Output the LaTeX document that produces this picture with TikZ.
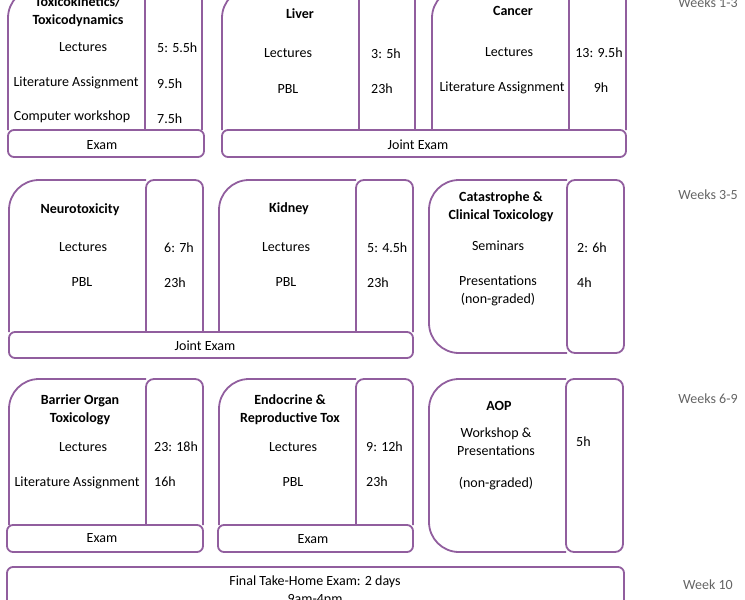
\documentclass[tikz,border=0pt]{standalone}
\usepackage{fontspec}
\setmainfont{Carlito}
\definecolor{modpurple}{RGB}{145,94,158}
\definecolor{weekgray}{RGB}{100,100,100}
\newcommand{\modfont}{\fontsize{14}{18}\selectfont}
\tikzstyle{frame} = [draw=modpurple, line width=1.8pt]
\tikzstyle{col} = [frame, rounded corners=8pt]
\tikzstyle{bar} = [frame, rounded corners=6pt]
\tikzstyle{txt} = [text height=.7em, text depth=.15em]
\tikzstyle{title} = [font=\modfont\bfseries, align=center]
\tikzstyle{hrs} = [txt, anchor=west]
\tikzstyle{week} = [txt, text=weekgray]

\begin{document}
\begin{tikzpicture}[x=1pt, y=-1pt, every node/.style={inner sep=0pt, font=\modfont, yshift=-2.5pt}]
	\useasboundingbox (0,0) rectangle (745,600);
	\clip (0,0) rectangle (745,600);

	% weeks 1-3
	\draw[frame] (145,-12) -- (38,-12) arc[start angle=90, end angle=180, radius=30pt] -- (8,130);
	\draw[col] (145,130) -- (145,-12) -- (202,-12) -- (202,130);
	\draw[bar] (8,130) rectangle (204,157);
	\draw[frame] (359,-12) -- (252,-12) arc[start angle=90, end angle=180, radius=30pt] -- (222,130);
	\draw[col] (359,130) -- (359,-12) -- (415,-12) -- (415,130);
	\draw[frame] (569,-12) -- (462,-12) arc[start angle=90, end angle=180, radius=30pt] -- (432,130);
	\draw[col] (569,130) -- (569,-12) -- (626,-12) -- (626,130);
	\draw[bar] (222,130) rectangle (626,157);

	\node[title] (tk) at (78,9) {Toxicokinetics/\\Toxicodynamics};
	\node[txt] (tk-lec) at (83,46) {Lectures};
	\node[hrs] (tk-lec-h) at (157,47) {5: 5.5h};
	\node[txt] (tk-lit) at (76,81) {Literature Assignment};
	\node[hrs] (tk-lit-h) at (157,83) {9.5h};
	\node[txt] (tk-cw) at (72,115) {Computer workshop};
	\node[hrs] (tk-cw-h) at (157,118) {7.5h};
	\node[txt] (tk-ex) at (102,144) {Exam};

	\node[title] (liv) at (300,11) {Liver};
	\node[txt] (liv-lec) at (288,52) {Lectures};
	\node[hrs] (liv-lec-h) at (371,53) {3: 5h};
	\node[txt] (liv-pbl) at (288,88) {PBL};
	\node[hrs] (liv-pbl-h) at (371,88) {23h};

	\node[title] (can) at (513,8) {Cancer};
	\node[txt] (can-lec) at (509,51) {Lectures};
	\node[txt] (can-lec-h) at (599,52) {13: 9.5h};
	\node[txt] (can-lit) at (502,86) {Literature Assignment};
	\node[txt] (can-lit-h) at (601,87) {9h};
	\node[txt] (je1) at (418,144) {Joint Exam};

	% weeks 3-5
	\draw[frame] (146,180) -- (39,180) arc[start angle=90, end angle=180, radius=30pt] -- (9,332);
	\draw[col] (146,332) -- (146,180) -- (203,180) -- (203,332);
	\draw[frame] (356,180) -- (249,180) arc[start angle=90, end angle=180, radius=30pt] -- (219,332);
	\draw[col] (356,332) -- (356,180) -- (413,180) -- (413,332);
	\draw[bar] (9,332) rectangle (413,358);
	\draw[frame] (567,180) -- (459,180) arc[start angle=90, end angle=180, radius=30pt]
		-- (429,323) arc[start angle=180, end angle=270, radius=30pt] -- (567,353);
	\draw[col] (567,180) rectangle (624,353);

	\node[title] (neu) at (80,207) {Neurotoxicity};
	\node[txt] (neu-lec) at (83,246) {Lectures};
	\node[hrs] (neu-lec-h) at (164,247) {6: 7h};
	\node[txt] (neu-pbl) at (82,281) {PBL};
	\node[hrs] (neu-pbl-h) at (164,282) {23h};

	\node[title] (kid) at (289,206) {Kidney};
	\node[txt] (kid-lec) at (286,246) {Lectures};
	\node[hrs] (kid-lec-h) at (367,247) {5: 4.5h};
	\node[txt] (kid-pbl) at (286,281) {PBL};
	\node[hrs] (kid-pbl-h) at (367,282) {23h};
	\node[txt] (je2) at (205,345) {Joint Exam};

	\node[title] (cat) at (501,204) {Catastrophe \&\\Clinical Toxicology};
	\node[txt] (cat-sem) at (498,245) {Seminars};
	\node[hrs] (cat-sem-h) at (577,247) {2: 6h};
	\node[align=center] (cat-pre) at (498,288.5) {Presentations\\(non-graded)};
	\node[hrs] (cat-pre-h) at (577,282) {4h};

	% weeks 6-9
	\draw[frame] (146,379) -- (39,379) arc[start angle=90, end angle=180, radius=30pt] -- (9,525);
	\draw[col] (146,525) -- (146,379) -- (203,379) -- (203,525);
	\draw[bar] (7,525) rectangle (203,552);
	\draw[frame] (356,379) -- (249,379) arc[start angle=90, end angle=180, radius=30pt] -- (219,525);
	\draw[col] (356,525) -- (356,379) -- (413,379) -- (413,525);
	\draw[bar] (218,525) rectangle (413,552);
	\draw[frame] (566,379) -- (459,379) arc[start angle=90, end angle=180, radius=30pt]
		-- (429,522) arc[start angle=180, end angle=270, radius=30pt] -- (566,552);
	\draw[col] (566,379) rectangle (623,552);

	\node[title] (bar) at (80,407) {Barrier Organ\\Toxicology};
	\node[txt] (bar-lec) at (83,446) {Lectures};
	\node[hrs] (bar-lec-h) at (154,446) {23: 18h};
	\node[txt] (bar-lit) at (77,481) {Literature Assignment};
	\node[hrs] (bar-lit-h) at (154,481) {16h};
	\node[txt] (bar-ex) at (102,537) {Exam};

	\node[title] (end) at (290,407) {Endocrine \&\\Reproductive Tox};
	\node[txt] (end-lec) at (293,446) {Lectures};
	\node[hrs] (end-lec-h) at (366,446) {9: 12h};
	\node[txt] (end-pbl) at (293,481) {PBL};
	\node[hrs] (end-pbl-h) at (366,481) {23h};
	\node[txt] (end-ex) at (313,538) {Exam};

	\node[title] (aop) at (499,403) {AOP};
	\node[align=center] (aop-ws) at (496,439) {Workshop \&\\Presentations};
	\node[txt] (aop-ng) at (496,482) {(non-graded)};
	\node[hrs] (aop-ws-h) at (576,441) {5h};

	% week 10
	\draw[bar] (7,567) rectangle (624,620);
	\node[align=center] (fin) at (315,588.5) {Final Take-Home Exam: 2 days\\9am-4pm};

	\node[week] (w1) at (708,2) {Weeks 1-3};
	\node[week] (w2) at (708,194) {Weeks 3-5};
	\node[week] (w3) at (708,398) {Weeks 6-9};
	\node[week] (w4) at (708,584) {Week 10};
\end{tikzpicture}
\end{document}
